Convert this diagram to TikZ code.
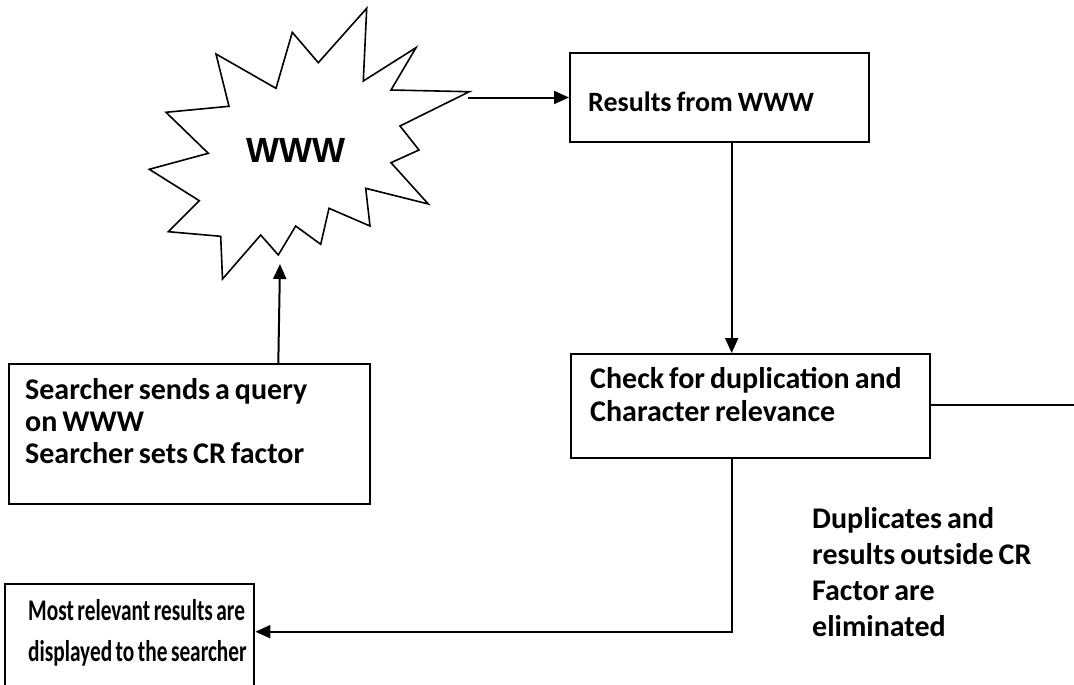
\documentclass[tikz,border=0pt]{standalone}
\usepackage{fontspec}
\setmainfont{Carlito}
\newfontfamily\wwwfont{Liberation Sans}
\usetikzlibrary{arrows.meta,calc}
\newcommand{\tightsp}{\spaceskip=5pt plus 1pt minus 0.5pt\relax}
\begin{document}
\begin{tikzpicture}[x=1pt,y=-1pt,
  box/.style={draw, line width=2.4pt, inner sep=0pt, anchor=north west},
  lbl/.style={anchor=base west, inner sep=0pt, text width=420pt, align=left,
              font=\fontsize{30}{33}\selectfont\bfseries},
  conn/.style={line width=2pt, -{Triangle[length=15pt,width=13pt]}},
  plain/.style={line width=2pt},
  burst/.style={draw, line width=1.6pt, line join=miter}]
\useasboundingbox (0,0) rectangle (1074,685);

% starburst "WWW"
\draw[burst] (366.7,8.3) -- (363.3,81) -- (416,47.7) -- (391,90) -- (469.3,91.7)
  -- (400,126) -- (419,150) -- (391,162.7) -- (428.3,204) -- (365.7,188.3)
  -- (370,226) -- (329,208.3) -- (320.7,244.3) -- (295.7,226) -- (278.3,255)
  -- (260.7,235) -- (222.5,279) -- (220.7,236.3) -- (168.3,231.7) -- (199.3,200.7)
  -- (149.3,169.3) -- (208.3,153.3) -- (166,112.3) -- (229,106.3) -- (216,54)
  -- (276,88.3) -- (292.3,32.3) -- (318.3,62.7) -- cycle;
\node[anchor=base, inner sep=0pt, font=\wwwfont\fontsize{35}{35}\selectfont\bfseries] (www) at (296,162) {WWW};
\coordinate (burstright) at (468,97.5);
\coordinate (burstbottom) at (280,264);

% boxes
\node[box, minimum width=299pt, minimum height=89pt] (res) at (569,52) {};
\node[box, minimum width=359pt, minimum height=104pt] (chk) at (570,353) {};
\node[box, minimum width=361.5pt, minimum height=140pt] (srch) at (7.5,363) {};
\node[box, minimum width=249pt, minimum height=120pt] (most) at (4,583) {};

% texts
\node[lbl, font=\fontsize{28}{33}\selectfont\bfseries] (tres) at (588,111) {\tightsp Results from WWW};
\node[lbl, font=\fontsize{30}{33.5}\selectfont\bfseries] (tchk) at (590,388) {\tightsp Check for duplication and\\Character relevance};
\node[lbl, font=\fontsize{30}{32}\selectfont\bfseries] (tsrch) at (25,399) {\tightsp Searcher sends a query\\on WWW\\Searcher sets CR factor};
\node[lbl, font=\fontsize{30}{41}\selectfont\bfseries] (tmost) at (28,620) {\scalebox{0.71}[1]{\tightsp Most relevant results are}\\\scalebox{0.71}[1]{\tightsp displayed to the searcher}};
\node[lbl, font=\fontsize{30}{36}\selectfont\bfseries] (tdup) at (812,528) {\tightsp Duplicates and\\results outside CR\\Factor are\\eliminated};

% connectors
\draw[conn] (burstright) -- (burstright -| res.west);
\draw[conn] ($(res.south west)+(162.7,0)$) -- ($(chk.north west)+(161.7,0)$);
\draw[conn] ($(srch.north west)+(270.8,0)$) -- (burstbottom);
\coordinate (rightend) at (1074,405);
\draw[plain] (chk.east |- rightend) -- (rightend);
\draw[conn] ($(chk.south west)+(161.7,0)$) |- (most.east |- 0,631.7);
\end{tikzpicture}
\end{document}
